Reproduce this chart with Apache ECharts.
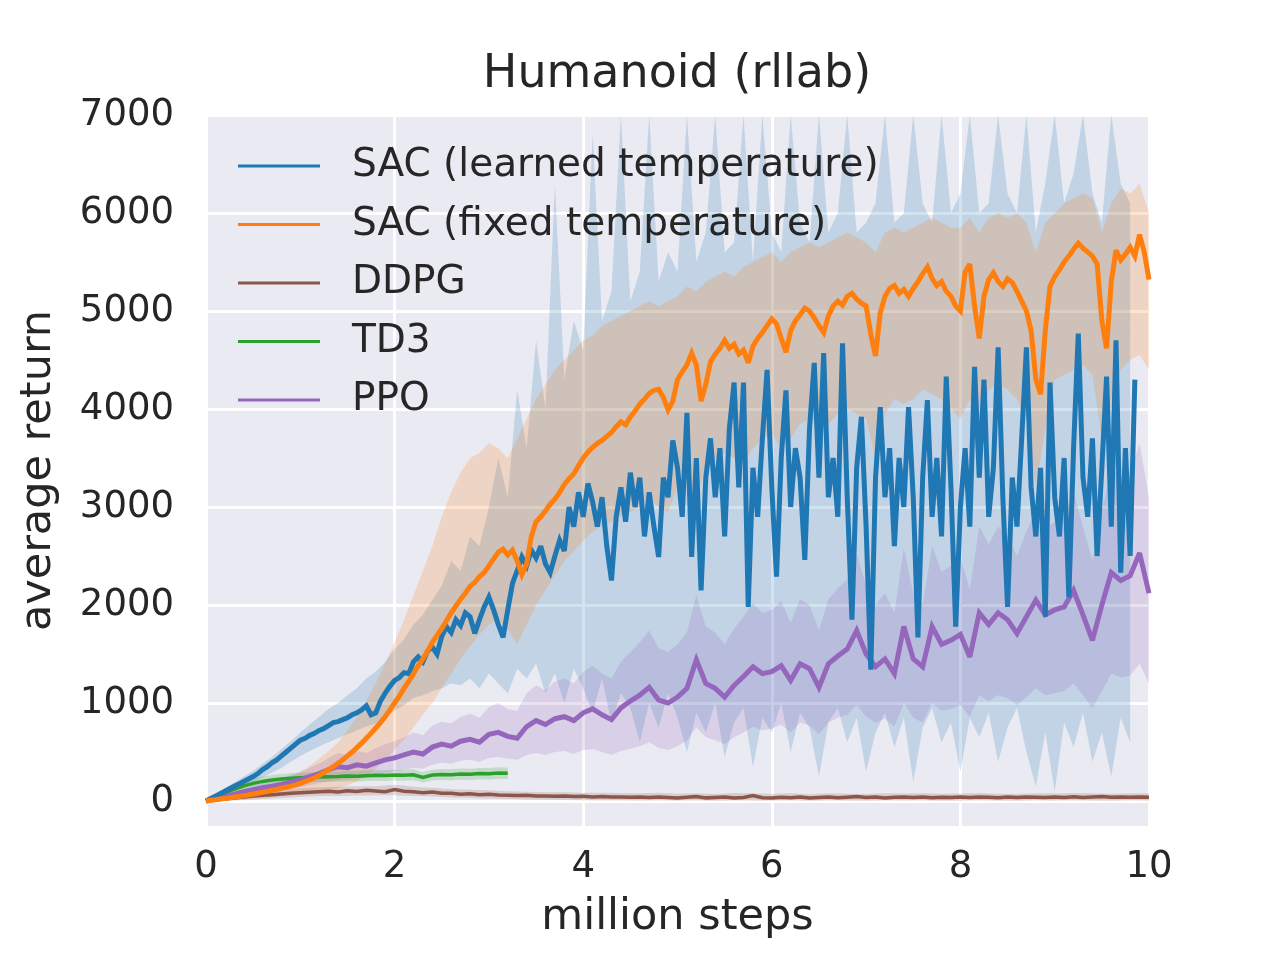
<!DOCTYPE html>
<html>
<head>
<meta charset="utf-8">
<title>Humanoid (rllab)</title>
<script src="https://cdn.jsdelivr.net/npm/echarts@6/dist/echarts.min.js"></script>
<style>
  html, body { margin: 0; padding: 0; background: #fff; }
  #chart { width: 1280px; height: 960px; }
</style>
</head>
<body>
<div id="chart"></div>
<script>
// sample spacing (million steps) of each array below
const FINE = 0.05;
const COARSE = 0.1;
const BAND_DDPG_STEP = 0.2;

const xTicks = [0, 2, 4, 6, 8, 10];
const yTicks = [0, 1000, 2000, 3000, 4000, 5000, 6000, 7000];

const names = ['SAC (learned temperature)', 'SAC (fixed temperature)', 'DDPG', 'TD3', 'PPO'];

// SAC (learned temperature): mean every 0.05, band every 0.1
const sacLearned = [
  0, 25, 50, 75, 100, 125, 150, 175, 200, 225,
  250, 280, 320, 350, 390, 420, 460, 500, 540, 580,
  620, 640, 670, 690, 720, 740, 770, 800, 810, 830,
  850, 880, 900, 930, 970, 880, 900, 1020, 1100, 1170,
  1230, 1260, 1310, 1300, 1420, 1470, 1420, 1530, 1570, 1500,
  1680, 1780, 1720, 1850, 1790, 1920, 1880, 1710, 1850, 1980,
  2080, 1950, 1800, 1670, 1950, 2220, 2350, 2490, 2400, 2560,
  2480, 2600, 2420, 2330, 2500, 2660, 2550, 3000, 2800, 3150,
  2900, 3240, 3050, 2800, 3100, 2600, 2250, 2900, 3200, 2850,
  3350, 3000, 3300, 2700, 3150, 2800, 2490, 3300, 3100, 3680,
  3400, 2900, 3960, 2490, 3500, 2150, 3300, 3700, 3100, 3600,
  2700, 3800, 4270, 3200, 4270, 1980, 3400, 2900, 3700, 4400,
  3200, 2290, 3500, 4190, 3000, 3600, 3300, 2460, 3800, 4470,
  3300, 4570, 3100, 3500, 2900, 4670, 3100, 1850, 3400, 3920,
  2800, 1340, 3300, 4020, 3100, 3600, 2600, 3500, 3000, 4020,
  3100, 1670, 3300, 4090, 2900, 3500, 2700, 4330, 3200, 1780,
  3000, 3600, 2800, 4430, 3300, 4300, 2900, 3400, 4630, 3100,
  1980, 3300, 2800, 3700, 4630, 3200, 2700, 3400, 1880, 4270,
  3100, 2700, 3500, 2080, 3600, 4770, 3300, 2900, 3700, 2500,
  3400, 4330, 2800, 4700, 2330, 3600, 2500, 4300
];
const sacLearnedLow = [
  0, 30, 70, 110, 150, 190, 240, 290, 340, 400,
  460, 510, 560, 600, 640, 680, 720, 760, 790, 850,
  920, 980, 1050, 1080, 1120, 1150, 1200, 1180, 1250, 1150,
  1300, 1200, 1100, 1350, 1250, 1400, 1100, 1300, 1000, 1350,
  1150, 900, 1250, 800, 1100, 950, 600, 1000, 750, 1100,
  850, 500, 900, 700, 1000, 450, 800, 950, 350, 850,
  700, 1000, 500, 900, 750, 250, 800, 950, 600, 850,
  300, 700, 900, 550, 850, 200, 750, 950, 600, 800,
  300, 850, 650, 900, 400, 750, 950, 500, 150, 700,
  100, 800, 550, 900, 400, 700, 250, 850, 600
];
const sacLearnedHigh = [
  0, 70, 130, 190, 250, 310, 380, 450, 530, 610,
  700, 780, 860, 940, 1000, 1080, 1150, 1250, 1320, 1420,
  1550, 1650, 1800, 1900, 2050, 2200, 2450, 2350, 2700, 2600,
  3000, 3500, 3100, 4200, 3600, 4700, 4000, 6300, 4300, 4900,
  4600, 6800, 4900, 5200, 7000, 5100, 5400, 7000, 5300, 5600,
  5400, 7000, 5500, 5800, 7000, 5600, 5700, 7000, 5500, 7000,
  5800, 5600, 7000, 5900, 5700, 7000, 5800, 6000, 7000, 5800,
  5900, 6100, 7000, 5900, 6000, 7000, 6100, 5900, 7000, 6000,
  6200, 7000, 6000, 6100, 7000, 6200, 6000, 7000, 5800, 6300,
  7000, 6100, 6400, 7000, 6200, 5900, 7000, 6300, 6100
];

// SAC (fixed temperature): mean every 0.05, band every 0.1
const sacFixed = [
  0, 8, 12, 20, 25, 32, 40, 46, 55, 62,
  72, 80, 90, 98, 110, 118, 130, 140, 152, 165,
  180, 198, 215, 238, 260, 290, 320, 350, 385, 420,
  460, 500, 545, 590, 640, 690, 745, 800, 860, 930,
  1000, 1070, 1150, 1220, 1300, 1380, 1450, 1530, 1620, 1690,
  1760, 1840, 1920, 1990, 2060, 2120, 2190, 2230, 2290, 2330,
  2400, 2470, 2540, 2570, 2510, 2560, 2450, 2310, 2420, 2700,
  2850, 2900, 2960, 3030, 3080, 3150, 3230, 3290, 3340, 3420,
  3500, 3560, 3610, 3650, 3680, 3720, 3760, 3820, 3870, 3840,
  3920, 3980, 4050, 4100, 4160, 4190, 4200, 4120, 3990, 4080,
  4300, 4380, 4450, 4570, 4450, 4080, 4250, 4480, 4560, 4620,
  4700, 4620, 4660, 4560, 4600, 4470, 4640, 4720, 4780, 4850,
  4920, 4870, 4720, 4580, 4800, 4900, 4960, 5030, 5000, 4930,
  4850, 4780, 4950, 5050, 5100, 5060, 5150, 5180, 5120, 5080,
  5050, 4760, 4540, 4980, 5150, 5230, 5260, 5180, 5220, 5150,
  5230, 5300, 5380, 5450, 5330, 5260, 5300, 5200, 5150, 5050,
  5000, 5400, 5480, 5050, 4720, 5150, 5320, 5390, 5300, 5250,
  5330, 5290, 5200, 5100, 5000, 4800, 4300, 4150, 4800, 5250,
  5350, 5420, 5500, 5560, 5630, 5690, 5640, 5600, 5560, 5480,
  4900, 4620, 5300, 5620, 5520, 5580, 5650, 5560, 5780, 5600,
  5320
];
const sacFixedLow = [
  0, 0, 5, 10, 15, 25, 30, 40, 50, 60,
  70, 80, 95, 110, 130, 160, 200, 260, 330, 420,
  520, 630, 750, 880, 1000, 1150, 1300, 1450, 1580, 1700,
  1800, 1850, 1750, 1600, 1800, 2000, 2150, 2300, 2450, 2550,
  2650, 2750, 2800, 2850, 2900, 2950, 3000, 3100, 3000, 2950,
  3200, 3300, 3100, 3400, 3500, 3550, 3500, 3450, 3600, 3700,
  3750, 3600, 3700, 3850, 3900, 3800, 3850, 3950, 4000, 3950,
  3900, 3500, 3950, 4100, 4050, 4100, 4200, 4150, 4100, 4000,
  3900, 4100, 3700, 4200, 4250, 4200, 4100, 3900, 3200, 3800,
  4300, 4350, 4400, 4450, 4350, 3700, 4100, 4400, 4500, 4550,
  4400
];
const sacFixedHigh = [
  0, 20, 40, 60, 85, 110, 140, 170, 210, 250,
  300, 360, 430, 510, 600, 720, 860, 1020, 1200, 1400,
  1620, 1850, 2100, 2350, 2600, 2900, 3150, 3350, 3500, 3550,
  3650, 3600, 3500, 3700, 3900, 4100, 4250, 4400, 4500, 4600,
  4700, 4750, 4850, 4900, 4950, 5000, 5050, 5100, 5050, 5100,
  5150, 5250, 5200, 5300, 5350, 5400, 5350, 5450, 5500, 5550,
  5600, 5500, 5600, 5650, 5700, 5650, 5700, 5750, 5800, 5750,
  5700, 5600, 5800, 5850, 5800, 5850, 5900, 5950, 5900, 5850,
  5850, 5950, 5800, 5950, 6000, 5950, 6000, 5900, 5600, 5900,
  6000, 6100, 6150, 6200, 6150, 5800, 6100, 6250, 6200, 6300,
  6000
];

// DDPG: mean every 0.1, band every 0.2
const ddpg = [
  0, 10, 20, 30, 40, 50, 58, 65, 72, 78,
  85, 90, 95, 100, 92, 105, 98, 110, 102, 95,
  118, 100, 95, 85, 92, 80, 78, 70, 75, 65,
  68, 62, 60, 55, 58, 50, 52, 48, 50, 45,
  48, 42, 45, 40, 42, 38, 40, 35, 42, 36,
  30, 38, 45, 32, 35, 40, 30, 36, 55, 33,
  30, 38, 34, 40, 30, 36, 42, 33, 38, 45,
  35, 40, 30, 38, 42, 35, 40, 33, 38, 36,
  40, 35, 42, 38, 33, 40, 36, 42, 38, 35,
  40, 37, 43, 36, 40, 45, 38, 42, 38, 40,
  38
];
const ddpgLow = [
  -10, 0, 10, 20, 30, 40, 50, 50, 55, 60,
  60, 50, 45, 35, 30, 25, 20, 15, 12, 10,
  8, 5, 5, 3, 6, 2, 4, 0, 5, 3,
  2, 6, 1, 4, 3, 0, 5, 2, 4, 1,
  3, 5, 2, 0, 4, 2, 5, 3, 1, 4,
  2
];
const ddpgHigh = [
  10, 40, 70, 95, 115, 130, 140, 145, 150, 150,
  165, 145, 135, 120, 115, 110, 100, 95, 90, 90,
  85, 85, 80, 78, 84, 75, 80, 72, 82, 76,
  74, 80, 70, 78, 75, 72, 80, 76, 78, 74,
  77, 82, 75, 72, 80, 76, 82, 78, 74, 80,
  76
];

// TD3: everything every 0.1, stops at 3.2M steps
const td3 = [
  0, 40, 80, 120, 155, 180, 200, 215, 225, 232,
  238, 242, 246, 248, 250, 255, 252, 258, 262, 260,
  265, 262, 268, 240, 265, 270, 268, 275, 272, 280,
  278, 285, 282
];
const td3Low = [
  0, 20, 45, 75, 105, 130, 150, 165, 175, 182,
  188, 192, 195, 197, 198, 202, 200, 205, 208, 205,
  210, 207, 212, 190, 210, 214, 212, 218, 215, 222,
  220, 226, 224
];
const td3High = [
  0, 60, 115, 165, 205, 230, 250, 265, 275, 282,
  288, 292, 297, 300, 302, 308, 305, 312, 316, 315,
  320, 318, 324, 295, 320, 326, 324, 332, 330, 338,
  336, 344, 340
];

// PPO: everything every 0.1
const ppo = [
  0, 20, 45, 70, 95, 115, 135, 150, 170, 195,
  215, 250, 280, 320, 350, 340, 370, 355, 390, 420,
  440, 470, 500, 480, 550, 580, 560, 610, 630, 600,
  680, 700, 660, 640, 760, 820, 780, 840, 860, 820,
  900, 940, 880, 830, 950, 1020, 1080, 1160, 1030, 1000,
  1060, 1150, 1440, 1200, 1150, 1060, 1180, 1270, 1370, 1300,
  1320, 1380, 1230, 1400, 1350, 1160, 1400, 1480, 1550, 1740,
  1500, 1370, 1450, 1300, 1780, 1450, 1370, 1780, 1600, 1640,
  1700, 1470, 1920, 1800, 1920, 1850, 1710, 1880, 2050, 1900,
  1950, 1980, 2150, 1900, 1640, 2000, 2330, 2250, 2300, 2530,
  2120
];
const ppoLow = [
  0, 10, 25, 40, 55, 70, 85, 95, 110, 125,
  140, 160, 180, 200, 215, 220, 235, 240, 260, 280,
  300, 320, 340, 330, 370, 390, 380, 410, 420, 400,
  440, 450, 430, 420, 470, 490, 470, 500, 510, 480,
  520, 530, 500, 470, 510, 530, 560, 600, 540, 520,
  560, 620, 750, 650, 620, 580, 650, 700, 760, 720,
  740, 780, 700, 800, 770, 680, 800, 850, 880, 980,
  860, 800, 840, 760, 1000, 850, 800, 1000, 920, 940,
  980, 860, 1080, 1020, 1080, 1050, 980, 1060, 1150, 1080,
  1100, 1120, 1200, 1080, 950, 1120, 1300, 1260, 1280, 1400,
  1200
];
const ppoHigh = [
  0, 30, 65, 100, 135, 160, 185, 205, 230, 265,
  290, 340, 380, 440, 490, 470, 510, 490, 540, 580,
  610, 650, 700, 670, 770, 810, 790, 860, 890, 850,
  960, 1000, 940, 920, 1100, 1180, 1130, 1220, 1250, 1200,
  1320, 1380, 1300, 1250, 1420, 1520, 1620, 1740, 1560, 1520,
  1600, 1720, 2100, 1780, 1720, 1600, 1760, 1880, 2020, 1920,
  1950, 2040, 1820, 2060, 2000, 1740, 2060, 2170, 2260, 2520,
  2200, 2000, 2120, 1920, 2580, 2120, 2000, 2600, 2340, 2400,
  2480, 2160, 2800, 2620, 2800, 2700, 2500, 2750, 2980, 2780,
  2850, 2900, 3150, 2800, 2450, 2950, 3400, 3300, 3350, 3650,
  3100
];

const colors = {
  learned: '#1f77b4',
  fixed: '#ff7f0e',
  ddpg: '#8c564b',
  td3: '#2ca02c',
  ppo: '#9467bd'
};

const TEXT = '#262626';
const FONT = 'DejaVu Sans';

// pair values with their x position (million steps)
function toPoints(values, step) {
  return values.map((v, i) => [Math.round(i * step * 1000) / 1000, v]);
}

// shaded band drawn as one polygon through the axis scales
function band(key, low, high, step, color) {
  const upper = toPoints(high, step);
  const lower = toPoints(low, step).reverse();
  return {
    name: key + '-band',
    type: 'custom',
    silent: true,
    z: 1,
    data: [[0, 0]],
    renderItem: function (params, api) {
      const pts = upper.concat(lower).map((p) => api.coord(p));
      return {
        type: 'polygon',
        shape: { points: pts },
        style: { fill: color, opacity: 0.2 }
      };
    }
  };
}

function meanLine(name, values, step, color, width) {
  return {
    name: name,
    type: 'line',
    data: toPoints(values, step),
    symbol: 'none',
    z: 3,
    color: color,
    lineStyle: { color: color, width: width, join: 'miter', miterLimit: 3 }
  };
}

const chart = echarts.init(document.getElementById('chart'), null, { renderer: 'canvas' });

const series = [
  band('learned', sacLearnedLow, sacLearnedHigh, COARSE, colors.learned),
  band('fixed', sacFixedLow, sacFixedHigh, COARSE, colors.fixed),
  band('ddpg', ddpgLow, ddpgHigh, BAND_DDPG_STEP, colors.ddpg),
  band('td3', td3Low, td3High, COARSE, colors.td3),
  band('ppo', ppoLow, ppoHigh, COARSE, colors.ppo),
  meanLine(names[2], ddpg, COARSE, colors.ddpg, 3.5),
  meanLine(names[3], td3, COARSE, colors.td3, 3.5),
  meanLine(names[4], ppo, COARSE, colors.ppo, 5),
  meanLine(names[0], sacLearned, FINE, colors.learned, 5),
  meanLine(names[1], sacFixed, FINE, colors.fixed, 5)
];

chart.setOption({
  animation: false,
  backgroundColor: '#ffffff',
  title: {
    text: 'Humanoid (rllab)',
    left: 677,
    top: 52,
    padding: 0,
    textAlign: 'center',
    textStyle: { fontFamily: FONT, fontSize: 46, fontWeight: 'normal', color: TEXT }
  },
  legend: {
    data: names,
    orient: 'vertical',
    left: 238,
    top: 143,
    padding: 0,
    itemGap: 12.5,
    itemWidth: 82,
    itemHeight: 3,
    icon: 'rect',
    selectedMode: false,
    textStyle: {
      fontFamily: FONT,
      fontSize: 39,
      color: TEXT,
      lineHeight: 46,
      padding: [0, 0, 0, 27]
    }
  },
  grid: {
    left: 206,
    top: 115,
    right: 131,
    bottom: 134,
    show: true,
    backgroundColor: '#EAEAF2',
    borderWidth: 0,
    containLabel: false
  },
  xAxis: {
    type: 'value',
    min: 0,
    max: 10,
    interval: 2,
    name: 'million steps',
    nameLocation: 'middle',
    nameGap: 70,
    nameTextStyle: { fontFamily: FONT, fontSize: 43, color: TEXT },
    axisLine: { show: false },
    axisTick: { show: false },
    axisLabel: {
      margin: 23,
      fontFamily: FONT,
      fontSize: 37,
      color: TEXT,
      customValues: xTicks
    },
    splitLine: { show: true, lineStyle: { color: '#ffffff', width: 3 } }
  },
  yAxis: {
    type: 'value',
    min: -255,
    max: 7000,
    name: 'average return',
    nameLocation: 'middle',
    nameGap: 146,
    nameTextStyle: { fontFamily: FONT, fontSize: 43, color: TEXT },
    axisLine: { show: false },
    axisTick: { show: false, customValues: yTicks },
    axisLabel: {
      margin: 32,
      fontFamily: FONT,
      fontSize: 37,
      color: TEXT,
      customValues: yTicks,
      formatter: (v) => String(v)
    },
    splitLine: { show: true, lineStyle: { color: '#ffffff', width: 3 } }
  },
  series: series
});
</script>
</body>
</html>
